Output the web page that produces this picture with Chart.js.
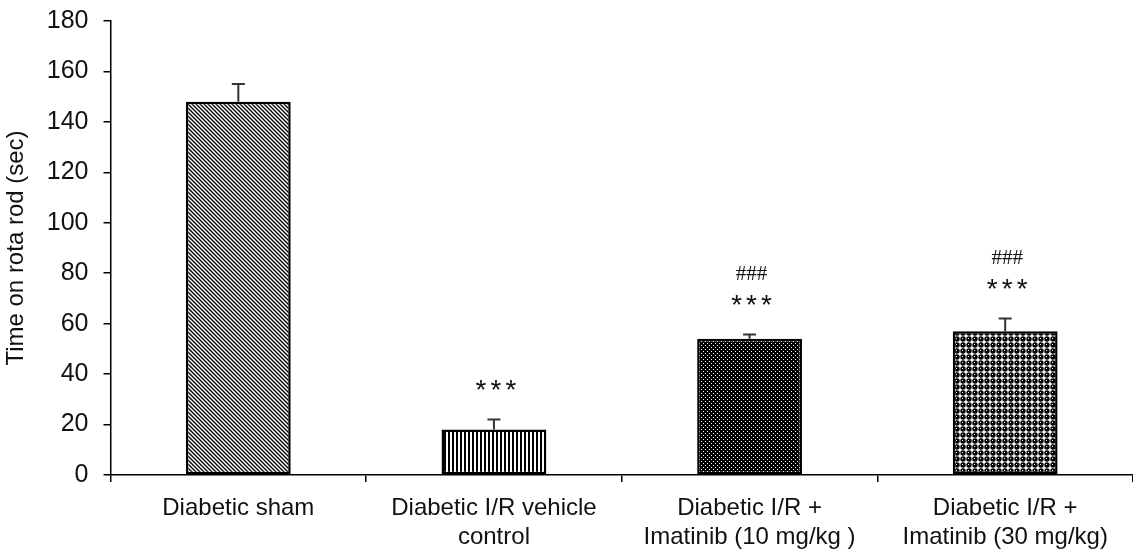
<!DOCTYPE html>
<html>
<head>
<meta charset="utf-8">
<script src="https://cdn.jsdelivr.net/npm/chart.js@4"></script>
<style>
  body { margin: 0; background: #fff; overflow: hidden; }
</style>
</head>
<body>
<canvas id="cv1" width="1133" height="550"></canvas>
<script>
// data
const groups = [
  ['Diabetic sham'],
  ['Diabetic I/R vehicle', 'control'],
  ['Diabetic I/R +', 'Imatinib (10 mg/kg )'],
  ['Diabetic I/R +', 'Imatinib (30 mg/kg)']
];
const means = [148, 18, 54, 57];
const errs = [7, 4, 1.7, 5];
const starMarks = ['', '***', '***', '***'];
const hashMarks = ['', '', '###', '###'];
const yTicks = [0, 20, 40, 60, 80, 100, 120, 140, 160, 180];

function tile(w, h, draw) {
  const c = document.createElement('canvas');
  c.width = w; c.height = h;
  const g = c.getContext('2d');
  draw(g, w, h);
  return g.createPattern(c, 'repeat');
}

const ctx = document.getElementById('cv1').getContext('2d');
const FONT = '"Liberation Sans", Arial, sans-serif';

// bar fills
const diag = tile(4, 4, (g) => {
  g.fillStyle = '#fff'; g.fillRect(0, 0, 4, 4);
  g.strokeStyle = '#000'; g.lineWidth = 1.3;
  g.beginPath();
  g.moveTo(-1, -1); g.lineTo(5, 5);
  g.moveTo(-1, 3); g.lineTo(1, 5);
  g.moveTo(3, -1); g.lineTo(5, 1);
  g.stroke();
});
const vert = tile(4, 4, (g) => {
  g.fillStyle = '#fff'; g.fillRect(0, 0, 4, 4);
  g.fillStyle = '#000'; g.fillRect(0, 0, 2, 4);
});
const dots = tile(4, 4, (g) => {
  g.fillStyle = '#000'; g.fillRect(0, 0, 4, 4);
  g.fillStyle = '#fff'; g.fillRect(1, 1, 1, 1); g.fillRect(3, 3, 1, 1);
});
const balls = tile(6, 6, (g) => {
  g.fillStyle = '#fff'; g.fillRect(0, 0, 6, 6);
  g.fillStyle = '#000';
  g.beginPath(); g.arc(3, 3, 2.7, 0, Math.PI * 2); g.fill();
  g.fillStyle = '#fff'; g.fillRect(2, 2, 1, 1);
});

const extras = {
  id: 'extras',
  afterDatasetsDraw(chart) {
    const c = chart.ctx;
    const y = chart.scales.y;
    const meta = chart.getDatasetMeta(0);
    c.save();
    // upper error bars
    c.strokeStyle = '#333'; c.lineWidth = 2;
    meta.data.forEach((bar, i) => {
      const yt = y.getPixelForValue(means[i]);
      const ye = y.getPixelForValue(means[i] + errs[i]);
      c.beginPath();
      c.moveTo(bar.x, yt); c.lineTo(bar.x, ye);
      c.moveTo(bar.x - 6.5, ye); c.lineTo(bar.x + 6.5, ye);
      c.stroke();
    });
    // significance marks
    c.fillStyle = '#111';
    c.textAlign = 'center'; c.textBaseline = 'middle';
    meta.data.forEach((bar, i) => {
      const ye = y.getPixelForValue(means[i] + errs[i]);
      c.font = '28px ' + FONT;
      c.letterSpacing = '4px';
      if (starMarks[i]) c.fillText(starMarks[i], bar.x + 4, ye - 28);
      c.font = '21px "Liberation Serif", "Times New Roman", serif';
      c.letterSpacing = '0px';
      if (hashMarks[i]) c.fillText(hashMarks[i], bar.x + 2, ye - 60);
    });
    c.restore();
  }
};

new Chart(ctx, {
  type: 'bar',
  data: {
    labels: groups,
    datasets: [{
      data: means,
      backgroundColor: [diag, vert, dots, balls],
      borderColor: '#000',
      borderWidth: 2.5,
      borderSkipped: false,
      barPercentage: 0.41,
      categoryPercentage: 1
    }]
  },
  options: {
    responsive: false,
    animation: false,
    // tick padding is counted twice in the axis height, so pull the bottom back
    layout: { padding: { top: 0, right: 0, bottom: -13.6, left: 1 } },
    plugins: { legend: { display: false }, tooltip: { enabled: false } },
    scales: {
      x: {
        border: { color: '#000', width: 1.5 },
        grid: { drawOnChartArea: false, drawTicks: true, tickLength: 7, color: '#000', lineWidth: 1.5 },
        ticks: { color: '#111', font: { family: FONT, size: 24, lineHeight: 1.2 }, padding: 12, maxRotation: 0, autoSkip: false }
      },
      y: {
        min: 0, max: 180,
        afterBuildTicks: (axis) => { axis.ticks = yTicks.map(v => ({ value: v })); },
        border: { color: '#000', width: 1.5 },
        grid: { drawOnChartArea: false, drawTicks: true, tickLength: 7, color: '#000', lineWidth: 1.5 },
        // small lineHeight keeps the top overflow down so 180 sits near the top edge
        ticks: { color: '#111', font: { family: FONT, size: 25, lineHeight: 0.48 }, padding: 15 },
        title: { display: true, text: 'Time on rota rod (sec)', color: '#111', font: { family: FONT, size: 24 }, padding: 1 }
      }
    }
  },
  plugins: [extras]
});
</script>
</body>
</html>
